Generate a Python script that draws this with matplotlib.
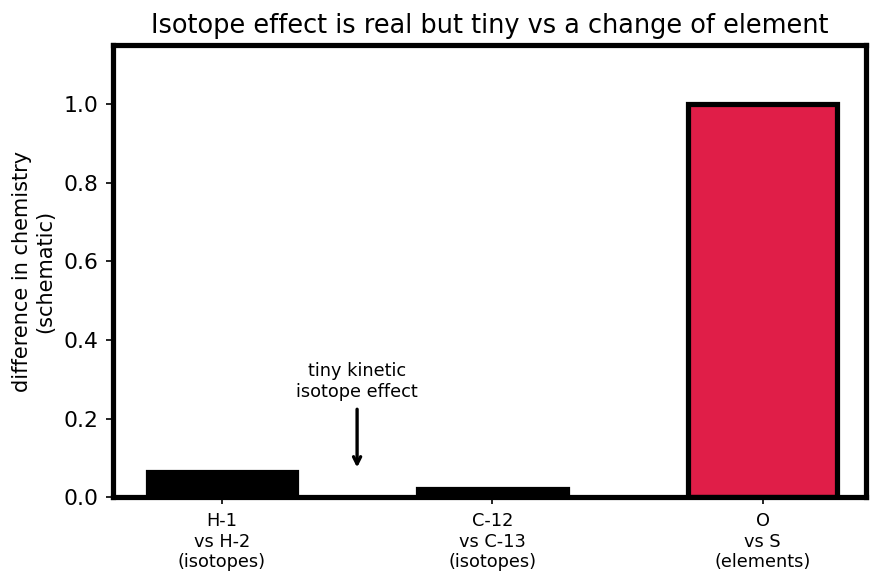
import matplotlib.pyplot as plt
import numpy as np

labels = ['H-1\nvs H-2\n(isotopes)', 'C-12\nvs C-13\n(isotopes)', 'O\nvs S\n(elements)']
values = [0.065, 0.02, 1.0]
colors = ['black', 'black', '#e01e48']

fig, ax = plt.subplots(figsize=(886 / 150, 585 / 150), dpi=150)
fig.subplots_adjust(left=0.1275, right=0.977, top=0.923, bottom=0.150)

x = np.arange(len(values))
ax.bar(x, values, width=0.55, color=colors, edgecolor='black', linewidth=2.5)

ax.set_xlim(-0.403, 2.381)
ax.set_ylim(0, 1.15)
ax.set_xticks(x)
ax.set_xticklabels(labels, fontsize=8.5)
ax.tick_params(axis='y', labelsize=10.5)
ax.set_ylabel('difference in chemistry\n(schematic)', fontsize=10)
ax.set_title('Isotope effect is real but tiny vs a change of element', fontsize=12.3)
for s in ax.spines.values():
    s.set_linewidth(2.5)

ax.annotate('tiny kinetic\nisotope effect', xy=(0.5, 0.065), xytext=(0.5, 0.245),
            ha='center', va='bottom', fontsize=8.5,
            arrowprops=dict(arrowstyle='->', color='black', lw=1.6))

fig.savefig('out.png', dpi=150)
